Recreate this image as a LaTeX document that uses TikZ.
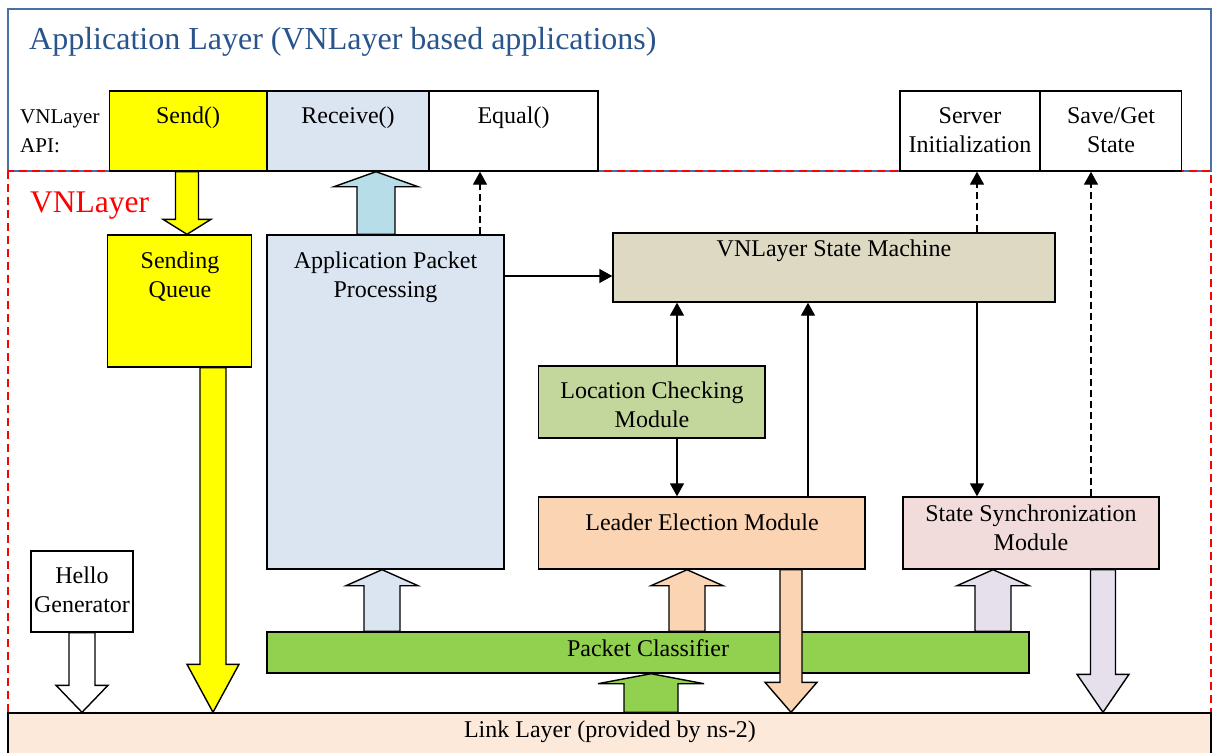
\documentclass[tikz,border=0pt]{standalone}
\usepackage{fontspec}
\setmainfont{Liberation Serif}
\usetikzlibrary{arrows.meta,fit,calc}
\definecolor{titleblue}{HTML}{29548C}
\definecolor{frameblue}{HTML}{4A6FA5}
\definecolor{sendyellow}{HTML}{FFFF00}
\definecolor{paleblue}{HTML}{DBE5F1}
\definecolor{aqua}{HTML}{B7DDE8}
\definecolor{tan}{HTML}{DDD9C3}
\definecolor{olive}{HTML}{C3D69B}
\definecolor{peach}{HTML}{FBD4B4}
\definecolor{rose}{HTML}{F2DCDB}
\definecolor{lavender}{HTML}{E5E0EC}
\definecolor{grass}{HTML}{92D050}
\definecolor{linkfill}{HTML}{FDE9D9}
\newcommand\fsMain{\fontsize{24}{28.8}\selectfont}
\newcommand\lbl[4]{\node[txt] (#1) at (#2,{#3-20.16}) {#4};}
% block arrow: fill, x-coordinate name, start anchor, tip anchor, shaft half width, head half width, head length (signed)
\newcommand\blockarr[7]{%
  \draw[barrow,fill=#1] ($(#3 -| #2)+(-#5,0)$) -- ($(#4 -| #2)+(-#5,#7)$) -- ($(#4 -| #2)+(-#6,#7)$)
    -- (#4 -| #2) -- ($(#4 -| #2)+(#6,#7)$) -- ($(#4 -| #2)+(#5,#7)$) -- ($(#3 -| #2)+(#5,0)$) -- cycle;}
\begin{document}
\begin{tikzpicture}[x=1pt,y=-1pt,
  box/.style={draw=black,line width=1.4pt,inner sep=0pt},
  txt/.style={inner sep=0pt,align=center,anchor=north,font=\fsMain},
  barrow/.style={draw=black,line width=1.4pt},
  conn/.style={line width=1.4pt,-{Triangle[length=13pt,width=14pt]}},
  dconn/.style={conn,dash pattern=on 7pt off 4pt}]
\useasboundingbox (0,0) rectangle (1212,752);
\clip (0,0) rectangle (1212,752);
\fill[white] (0,0) rectangle (1212,752);
% frames
\draw[frameblue,line width=1.2pt] (8,9) rectangle (1211,171);
\draw[red,line width=1.4pt,dash pattern=on 8pt off 5pt] (8,171) rectangle (1211,713);
\node[box,fill=linkfill,fit={(8,713) (1211,770)}] (link) {};
% coordinates for vertical lines
\foreach \xx in {82,187,213,376,382,480,651,677,687,791,808,977,993,1091,1103}
  \coordinate (x\xx) at (\xx,0);
\coordinate (y276) at (0,276);
% API row
\node[box,fill=sendyellow,fit={(109.5,91) (267,171)}] (send) {};
\node[box,fill=paleblue,fit={(267,91) (429,171)}] (recv) {};
\node[box,fill=white,fit={(429,91) (598,171)}] (equal) {};
\node[box,fill=white,fit={(900,91) (1040,171)}] (server) {};
\node[box,fill=white,fit={(1040,91) (1181.5,171)}] (saveget) {};
% VNLayer boxes
\node[box,fill=sendyellow,fit={(107.5,235) (251.5,367)}] (sq) {};
\node[box,fill=paleblue,fit={(267,235) (504,569)}] (app) {};
\node[box,fill=tan,fit={(613,233) (1055,302)}] (sm) {};
\node[box,fill=olive,fit={(538.5,366) (765,438)}] (loc) {};
\node[box,fill=peach,fit={(538.5,497) (865,569)}] (leader) {};
\node[box,fill=rose,fit={(903,497) (1159,569)}] (sync) {};
\node[box,fill=white,fit={(31,551) (133,632)}] (hello) {};
\node[box,fill=grass,fit={(267,632) (1029,673)}] (cls) {};
% texts
\node[anchor=base west,inner sep=0pt,text=titleblue,font=\fontsize{32}{38}\selectfont] (title) at (29,49) {Application Layer (VNLayer based applications)};
\node[anchor=north west,inner sep=0pt,align=left,font=\fontsize{21}{29}\selectfont] (api) at (20,{123-20.3}) {\strut VNLayer\\\strut API:};
\node[anchor=base west,inner sep=0pt,text=red,font=\fontsize{31.5}{36}\selectfont] (vnl) at (30,212) {VNLayer};
\lbl{tsend}{188}{123}{\strut Send()}
\lbl{trecv}{348}{123}{\strut Receive()}
\lbl{tequal}{513.5}{123}{\strut Equal()}
\lbl{tserver}{970}{123}{\strut Server\\\strut Initialization}
\lbl{tsave}{1111}{123}{\strut Save/Get\\\strut State}
\lbl{tsq}{180}{268}{\strut Sending\\\strut Queue}
\lbl{tapp}{385.5}{268}{\strut Application Packet\\\strut Processing}
\lbl{tsm}{834}{256}{\strut VNLayer State Machine}
\lbl{tloc}{652}{398}{\strut Location Checking\\\strut Module}
\lbl{tleader}{702}{530}{\strut Leader Election Module}
\lbl{tsync}{1031}{521}{\strut State Synchronization\\\strut Module}
\lbl{thello}{82}{583}{\strut Hello\\\strut Generator}
\lbl{tcls}{648}{656}{\strut Packet Classifier}
\lbl{tlink}{610}{737}{\strut Link Layer (provided by ns-2)}
% thin connectors
\draw[conn] (app.east |- y276) -- (sm.west |- y276);
\draw[conn] (loc.north -| x677) -- (sm.south -| x677);
\draw[conn] (loc.south -| x677) -- (leader.north -| x677);
\draw[conn] (leader.north -| x808) -- (sm.south -| x808);
\draw[conn] (sm.south -| x977) -- (sync.north -| x977);
\draw[dconn] (app.north -| x480) -- (equal.south -| x480);
\draw[dconn] (sm.north -| x977) -- (server.south -| x977);
\draw[dconn] (sync.north -| x1091) -- (saveget.south -| x1091);
% block arrows
\blockarr{sendyellow}{x187}{send.south}{sq.north}{11.5}{24}{-15}
\blockarr{aqua}{x376}{app.north}{recv.south}{19}{42}{15}
\blockarr{sendyellow}{x213}{sq.south}{link.north}{13}{26}{-48}
\blockarr{white}{x82}{hello.south}{link.north}{13}{26}{-27}
\blockarr{paleblue}{x382}{cls.north}{app.south}{18}{36}{16}
\blockarr{peach}{x687}{cls.north}{leader.south}{18}{36}{16}
\blockarr{lavender}{x993}{cls.north}{sync.south}{18}{36}{16}
\blockarr{grass}{x651}{link.north}{cls.south}{27}{53}{10}
\blockarr{peach}{x791}{leader.south}{link.north}{11}{26}{-30}
\blockarr{lavender}{x1103}{sync.south}{link.north}{12.5}{26}{-38}
\end{tikzpicture}
\end{document}
